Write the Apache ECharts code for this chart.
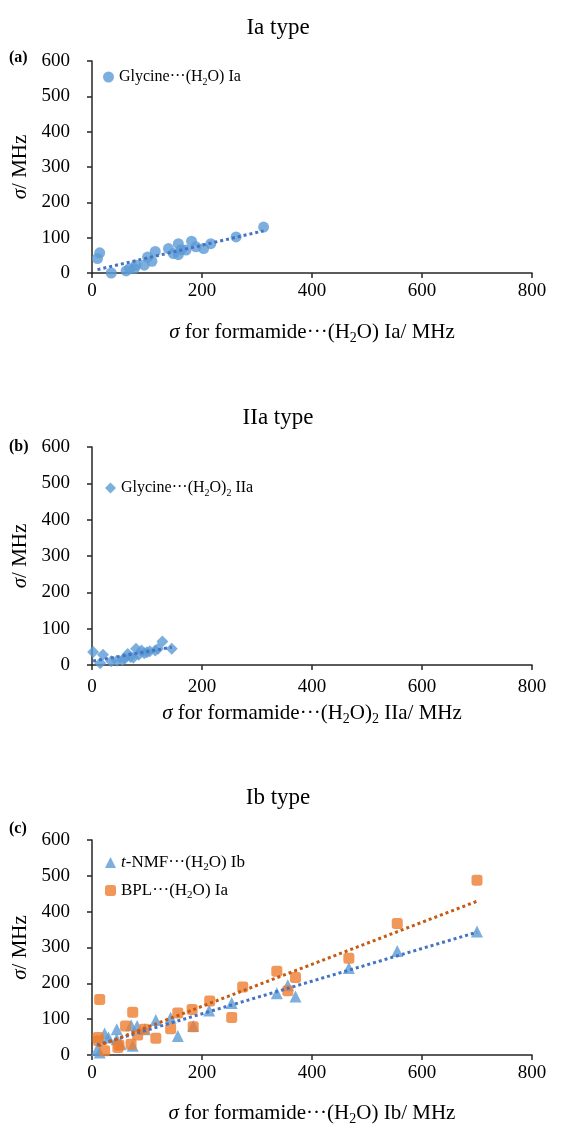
<!DOCTYPE html>
<html>
<head>
<meta charset="utf-8">
<script src="https://cdn.jsdelivr.net/npm/echarts@6/dist/echarts.min.js"></script>
<style>
  html, body { margin: 0; padding: 0; background: #fff; }
  #chart { width: 568px; height: 1127px; }
</style>
</head>
<body>
<div id="chart"></div>
<script>
// Shielding constants sigma (MHz): [formamide complex, compared complex]
const glycineIa = [[10,41],[14,57],[35,0],[62,6],[68,12],[77,13],[80,22],[95,22],[101,45],[109,33],[115,61],[139,69],[148,55],[157,52],[157,83],[162,66],[171,65],[181,90],[189,74],[203,69],[216,83],[262,102],[312,130]];
const glycineIIa = [[2,36],[15,5],[20,28],[35,10],[45,12],[55,14],[60,18],[65,30],[70,22],[75,20],[80,45],[85,28],[90,40],[95,32],[100,35],[105,38],[115,40],[120,45],[128,65],[145,45]];
const tNMFIb = [[9,14],[14,7],[23,60],[30,49],[45,72],[45,44],[52,30],[71,83],[74,26],[82,81],[96,72],[116,98],[143,104],[156,53],[184,81],[213,124],[254,145],[336,172],[356,195],[370,163],[467,243],[555,290],[700,345]];
const bplIa = [[14,155],[11,49],[12,40],[23,12],[47,21],[49,28],[61,81],[71,30],[74,119],[83,56],[95,72],[116,47],[143,73],[156,117],[182,127],[184,79],[214,151],[254,105],[274,190],[336,234],[356,179],[370,216],[467,270],[555,367],[700,488]];

const xTicks = [0, 200, 400, 600, 800];
const yTicks = [0, 100, 200, 300, 400, 500, 600];

const SERIF = '"Liberation Serif", "DejaVu Serif", serif';
const BLUE = '#5B9BD5', BLUE_TREND = '#4472C4';
const ORANGE = '#ED7D31', ORANGE_TREND = '#C55A11';

// least-squares linear trend over the x range of the points
function trend(pts) {
  const n = pts.length;
  let sx = 0, sy = 0, sxx = 0, sxy = 0;
  pts.forEach(([x, y]) => { sx += x; sy += y; sxx += x * x; sxy += x * y; });
  const b = (n * sxy - sx * sy) / (n * sxx - sx * sx);
  const a = (sy - b * sx) / n;
  const xs = pts.map(p => p[0]);
  const x0 = Math.min(...xs), x1 = Math.max(...xs);
  return [[x0, a + b * x0], [x1, a + b * x1]];
}

function richSet(size) {
  const sub = Math.round(size * 0.65);
  return {
    n: { fontFamily: SERIF, fontSize: size, color: '#000', lineHeight: size + 4 },
    i: { fontFamily: SERIF, fontSize: size, color: '#000', fontStyle: 'italic', lineHeight: size + 4 },
    s: { fontFamily: SERIF, fontSize: sub, color: '#000', lineHeight: sub, verticalAlign: 'bottom' }
  };
}

const grids = [
  { left: 92, top: 61, width: 440, height: 212 },
  { left: 92, top: 447, width: 440, height: 218 },
  { left: 92, top: 840, width: 440, height: 217 }
];
const xNames = [
  '{i|σ}{n| for formamide···(H}{s|2}{n|O) Ia/ MHz}',
  '{i|σ}{n| for formamide···(H}{s|2}{n|O)}{s|2}{n| IIa/ MHz}',
  '{i|σ}{n| for formamide···(H}{s|2}{n|O) Ib/ MHz}'
];
const xNameGaps = [47, 36, 46];

const AXIS_COLOR = '#262626';
const xAxes = grids.map((g, k) => ({
  gridIndex: k, type: 'value', min: xTicks[0], max: xTicks[xTicks.length - 1], interval: xTicks[1] - xTicks[0],
  axisLine: { lineStyle: { color: AXIS_COLOR, width: 1.5 } },
  axisTick: { show: true, inside: false, length: 5, lineStyle: { color: AXIS_COLOR, width: 1.5 } },
  splitLine: { show: false },
  axisLabel: { fontFamily: SERIF, fontSize: 19, color: '#000', margin: k === 1 ? 13 : 9 },
  name: xNames[k], nameLocation: 'middle', nameGap: xNameGaps[k],
  nameTextStyle: { fontFamily: SERIF, fontSize: 21, color: '#000', rich: richSet(21) }
}));
const yAxes = grids.map((g, k) => ({
  gridIndex: k, type: 'value', min: yTicks[0], max: yTicks[yTicks.length - 1], interval: yTicks[1] - yTicks[0],
  axisLine: { show: true, lineStyle: { color: AXIS_COLOR, width: 1.5 } },
  axisTick: { show: true, inside: false, length: 5, lineStyle: { color: AXIS_COLOR, width: 1.5 } },
  splitLine: { show: false },
  axisLabel: { fontFamily: SERIF, fontSize: 19, color: '#000', margin: 22 },
  name: '{i|σ}{n|/ MHz}', nameLocation: 'middle', nameGap: 56, nameRotate: 90,
  nameTextStyle: { fontFamily: SERIF, fontSize: 21, color: '#000', rich: richSet(21) }
}));

const dotted = (color) => ({ color, width: 3, type: [3, 3], cap: 'butt' });

const series = [
  { name: 'Glycine···(H2O) Ia', type: 'scatter', xAxisIndex: 0, yAxisIndex: 0,
    symbol: 'circle', symbolSize: 11, itemStyle: { color: BLUE }, data: glycineIa, z: 3 },
  { type: 'line', xAxisIndex: 0, yAxisIndex: 0, data: trend(glycineIa), showSymbol: false,
    lineStyle: dotted(BLUE_TREND), silent: true, z: 4 },

  { name: 'Glycine···(H2O)2 IIa', type: 'scatter', xAxisIndex: 1, yAxisIndex: 1,
    symbol: 'diamond', symbolSize: 12, itemStyle: { color: BLUE }, data: glycineIIa, z: 3 },
  { type: 'line', xAxisIndex: 1, yAxisIndex: 1, data: trend(glycineIIa), showSymbol: false,
    lineStyle: dotted(BLUE_TREND), silent: true, z: 4 },

  { name: 't-NMF···(H2O) Ib', type: 'scatter', xAxisIndex: 2, yAxisIndex: 2,
    symbol: 'triangle', symbolSize: 12, itemStyle: { color: BLUE }, data: tNMFIb, z: 3 },
  { name: 'BPL···(H2O) Ia', type: 'scatter', xAxisIndex: 2, yAxisIndex: 2,
    symbol: 'roundRect', symbolSize: 11, itemStyle: { color: ORANGE }, data: bplIa, z: 3 },
  { type: 'line', xAxisIndex: 2, yAxisIndex: 2, data: trend(tNMFIb), showSymbol: false,
    lineStyle: dotted(BLUE_TREND), silent: true, z: 4 },
  { type: 'line', xAxisIndex: 2, yAxisIndex: 2, data: trend(bplIa), showSymbol: false,
    lineStyle: dotted(ORANGE_TREND), silent: true, z: 4 }
];

const legendLabels = {
  'Glycine···(H2O) Ia': '{n|Glycine···(H}{s|2}{n|O) Ia}',
  'Glycine···(H2O)2 IIa': '{n|Glycine···(H}{s|2}{n|O)}{s|2}{n| IIa}',
  't-NMF···(H2O) Ib': '{i|t}{n|-NMF···(H}{s|2}{n|O) Ib}',
  'BPL···(H2O) Ia': '{n|BPL···(H}{s|2}{n|O) Ia}'
};
const legendCommon = (size) => ({
  orient: 'vertical', itemWidth: 11, itemHeight: 11, selectedMode: false,
  formatter: (name) => legendLabels[name],
  textStyle: { fontFamily: SERIF, fontSize: size, color: '#000', rich: richSet(size) }
});

const panelTitles = [
  { text: 'Ia type', y: 28, tag: '(a)', ty: 58 },
  { text: 'IIa type', y: 418, tag: '(b)', ty: 447 },
  { text: 'Ib type', y: 798, tag: '(c)', ty: 829 }
];
const graphics = [];
panelTitles.forEach(p => {
  graphics.push({ type: 'text', style: { text: p.text, x: 278, y: p.y, textAlign: 'center', textVerticalAlign: 'middle',
    font: '23px ' + SERIF, fill: '#000' } });
  graphics.push({ type: 'text', style: { text: p.tag, x: 9, y: p.ty, textAlign: 'left', textVerticalAlign: 'middle',
    font: 'bold 16px ' + SERIF, fill: '#000' } });
});

const chart = echarts.init(document.getElementById('chart'), null, { renderer: 'canvas' });
chart.setOption({
  animation: false,
  backgroundColor: '#fff',
  grid: grids,
  xAxis: xAxes,
  yAxis: yAxes,
  legend: [
    Object.assign(legendCommon(16), { left: 98, top: 64, data: ['Glycine···(H2O) Ia'] }),
    Object.assign(legendCommon(16), { left: 100, top: 475, data: ['Glycine···(H2O)2 IIa'] }),
    Object.assign(legendCommon(17), { left: 100, top: 849, itemGap: 9, data: ['t-NMF···(H2O) Ib', 'BPL···(H2O) Ia'] })
  ],
  series,
  graphic: graphics
});
</script>
</body>
</html>
